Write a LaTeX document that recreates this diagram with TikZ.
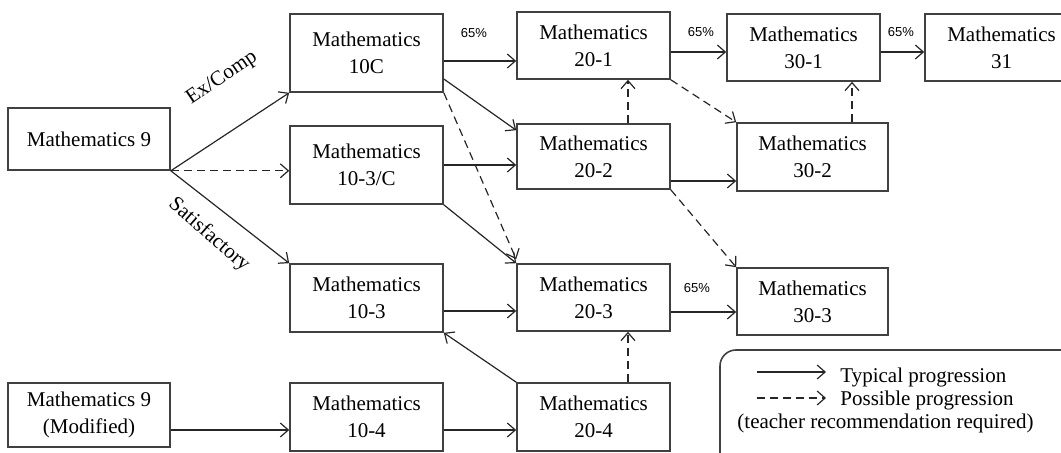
\documentclass[tikz,border=0pt]{standalone}
\usepackage{fontspec}
\setmainfont{Liberation Serif}
\newfontfamily\pctfont{Liberation Sans}
\usetikzlibrary{arrows.meta}

\begin{document}
\begin{tikzpicture}[
      x=0.5pt, y=-0.5pt,
      >={Straight Barb[length=4pt,width=7pt]},
      course/.style={
        rectangle, draw=black!75, line width=0.8pt, align=center,
        minimum width=76.5pt, inner sep=0pt,
        font=\fontsize{10.5}{13.5}\selectfont
      },
      typical/.style={->, draw=black!85, line width=0.6pt},
      possible/.style={typical, dash pattern=on 4pt off 2.5pt},
      pct/.style={font=\pctfont\fontsize{6.5}{7}\selectfont, inner sep=0pt},
      note/.style={font=\fontsize{10.5}{13.5}\selectfont, inner sep=0pt}
    ]
    \useasboundingbox (0,0) rectangle (1061,453);
    \clip (0,0) rectangle (1061,453);

    \node[course, minimum width=81pt, minimum height=31pt] (m9) at (89,139) {Mathematics 9};
    \node[course, minimum width=81pt, minimum height=32pt] (m9mod) at (89,415) {Mathematics 9\\(Modified)};

    \node[course, minimum height=39pt] (m10c)  at (366.5,53)  {Mathematics\\10C};
    \node[course, minimum height=39pt] (m103c) at (366.5,165) {Mathematics\\10-3/C};
    \node[course, minimum height=34pt] (m103)  at (366.5,298) {Mathematics\\10-3};
    \node[course, minimum height=34pt] (m104)  at (366.5,417) {Mathematics\\10-4};

    \node[course, minimum height=33.5pt] (m201) at (593.5,45.5)  {Mathematics\\20-1};
    \node[course, minimum height=32.5pt] (m202) at (593.5,156.5) {Mathematics\\20-2};
    \node[course, minimum height=33.5pt] (m203) at (593.5,297.5) {Mathematics\\20-3};
    \node[course, minimum height=34pt]   (m204) at (593.5,417)   {Mathematics\\20-4};

    \node[course, minimum height=33.5pt] (m301) at (803.5,47.5) {Mathematics\\30-1};
    \node[course, minimum width=75.5pt, minimum height=34pt] (m302) at (812.5,157) {Mathematics\\30-2};
    \node[course, minimum width=75.5pt, minimum height=33.5pt] (m303) at (812.5,301.5) {Mathematics\\30-3};
    \node[course, minimum height=33.5pt] (m31) at (1001.5,47.5) {Mathematics\\31};

    \node[note, rotate=34]  (excomp) at (222,78)  {Ex/Comp};
    \node[note, rotate=-41] (satis)  at (209,235) {Satisfactory};

    \node[pct] (p1) at (474,33)  {65\%};
    \node[pct] (p2) at (701,32)  {65\%};
    \node[pct] (p3) at (901,32)  {65\%};
    \node[pct] (p4) at (697,288) {65\%};

    \draw[typical]  (m9.south east) -- (m10c.south west);
    \draw[possible] (m9.south east) -- (m9.south east -| m103c.west);
    \draw[typical]  (m9.south east) -- (m103.north west);
    \draw[typical]  ([yshift=-7.5pt]m9mod.east) -- ([yshift=-6.5pt]m104.west);

    \draw[typical]  ([yshift=-4pt]m10c.east) -- ([yshift=-7.75pt]m201.west);
    \draw[typical]  ([yshift=-13pt]m10c.east) -- ([yshift=-3.5pt]m202.north west);
    \draw[possible] (m10c.south east) -- ([yshift=2pt]m203.north west);
    \draw[typical]  (m103c.east) -- (m103c.east -| m202.west);
    \draw[typical]  (m103c.south east) -- (m203.north west);
    \draw[typical]  ([yshift=-6.5pt]m103.east) -- ([yshift=-6.75pt]m203.west);
    \draw[typical]  ([yshift=-6.5pt]m104.east) -- ([yshift=-6.5pt]m204.west);
    \draw[typical]  (m204.north west) -- (m103.south east);

    \draw[possible] ([xshift=17.25pt]m202.north) -- ([xshift=17.25pt]m201.south);
    \draw[possible] ([xshift=17.25pt]m204.north) -- ([xshift=17.25pt]m203.south);

    \draw[typical]  ([yshift=-3.25pt]m201.east) -- ([yshift=-2.25pt]m301.west);
    \draw[possible] (m201.south east) -- (m302.north west);
    \draw[typical]  ([yshift=-12.25pt]m202.east) -- ([yshift=-12pt]m302.west);
    \draw[possible] (m202.south east) -- (m303.north west);
    \draw[typical]  ([yshift=-7.25pt]m203.east) -- ([yshift=-5.25pt]m303.west);
    \draw[possible] ([xshift=19.75pt]m302.north) -- ([xshift=24.25pt]m301.south);
    \draw[typical]  ([yshift=-2.25pt]m301.east) -- ([yshift=-2.25pt]m31.west);

    \draw[draw=black!75, line width=0.8pt, rounded corners=8pt] (720,350) rectangle (1090,475);
    \coordinate (ta1) at (757,372);
    \coordinate (ta2) at (826,372);
    \coordinate (pa1) at (757,398);
    \coordinate (pa2) at (826,398);
    \node[note, anchor=west] (typ) at (840,377) {Typical progression};
    \node[note, anchor=west] (pos) at (840,400) {Possible progression};
    \node[note] (req) at (885.5,423) {(teacher recommendation required)};
    \draw[typical]  (ta1) -- (ta2);
    \draw[possible] (pa1) -- (pa2);
  \end{tikzpicture}
\end{document}
